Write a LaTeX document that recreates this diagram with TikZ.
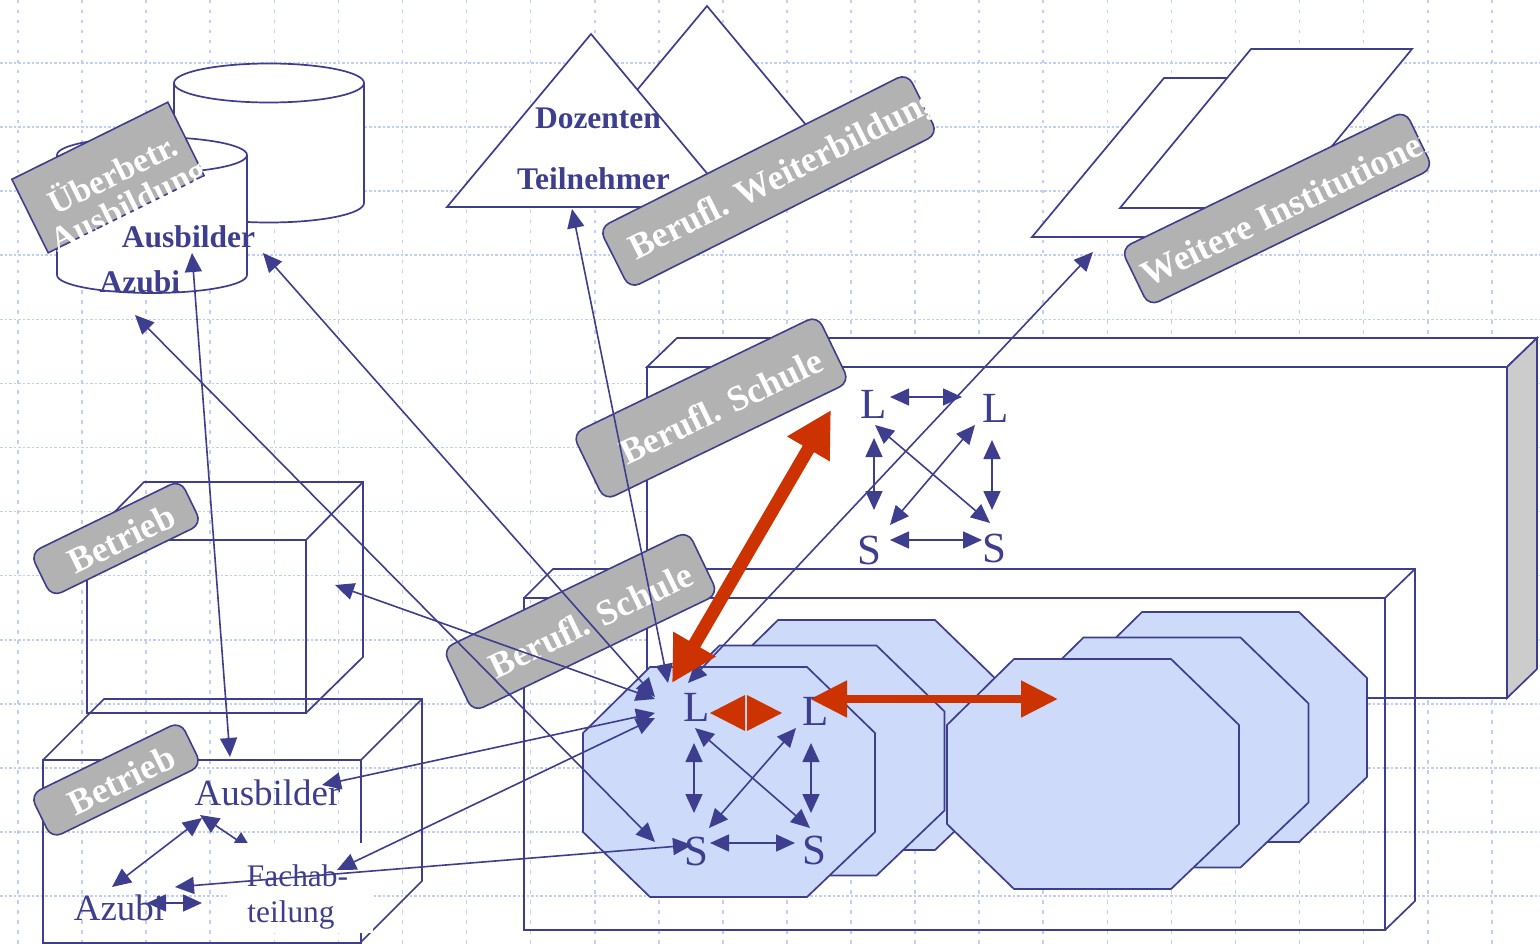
\documentclass[tikz,border=0pt]{standalone}
\usepackage{fontspec}
\setmainfont{Liberation Serif}
\usetikzlibrary{arrows.meta}
\definecolor{lc}{RGB}{62,62,142}
\definecolor{gridc}{RGB}{192,207,248}
\definecolor{labelgray}{RGB}{178,178,178}
\definecolor{sidegray}{RGB}{204,204,204}
\definecolor{octfill}{RGB}{205,218,250}
\definecolor{redc}{RGB}{204,51,0}
\newcommand{\myfs}[1]{\fontsize{#1}{#1}\selectfont}
\newcommand{\myoct}[2]{%
  \draw[octst, shift={(#1,#2)}] (650,667) -- (807,667) -- (875,733) -- (875,832) -- (807,897) -- (650,897) -- (583,832) -- (583,733) -- cycle;}
\begin{document}
\begin{tikzpicture}[x=1pt,y=-1pt,
  ln/.style={draw=lc,line width=1.7pt,line join=miter},
  wh/.style={ln,fill=white},
  octst/.style={ln,fill=octfill},
  vgrid/.style={draw=gridc,line width=1.6pt,dash pattern=on 3.5pt off 6.5pt},
  hgrid/.style={draw=gridc,line width=1.6pt,dash pattern=on 2.5pt off 2pt},
  con/.style={draw=lc,line width=1.6pt,{Triangle[length=19pt,width=17pt]}-{Triangle[length=19pt,width=17pt]}},
  lblbox/.style={draw=lc,line width=1.6pt,fill=labelgray,inner sep=0pt,rounded corners=11pt},
  lbltxt/.style={text=white,font=\bfseries\myfs{36},inner sep=0pt},
  boldtxt/.style={text=lc,font=\bfseries\myfs{31.5},inner sep=0pt,anchor=base},
  regtxt/.style={text=lc,inner sep=0pt,anchor=base},
  lstxt/.style={text=lc,font=\myfs{43},inner sep=0pt,anchor=base},
  redtip/.style={draw=redc,line width=13pt,{Triangle[length=45pt,width=46pt]}-{Triangle[length=45pt,width=46pt]}},
  redtiptwo/.style={draw=redc,line width=8pt,{Triangle[length=37pt,width=35pt]}-{Triangle[length=37pt,width=35pt]}}
]
\useasboundingbox (0,0) rectangle (1540,944);
\fill[white] (0,0) rectangle (1540,944);
% grid
\foreach \i in {0,...,23} \draw[vgrid] ({18+64.08*\i},0) -- ({18+64.08*\i},944);
\foreach \j in {0,...,13} \draw[hgrid] (0,{63+64.08*\j}) -- (1540,{63+64.08*\j});

% cylinders
\path[wh] (174,83) -- (174,203) .. controls (174,213.8) and (216.5,222.5) .. (269,222.5) .. controls (321.5,222.5) and (364,213.8) .. (364,203) -- (364,83);
\draw[wh] (269,83) ellipse [x radius=95, y radius=19.5];
\path[wh] (57,155) -- (57,275) .. controls (57,284.9) and (99.5,293) .. (152,293) .. controls (204.5,293) and (247,284.9) .. (247,275) -- (247,155);
\draw[wh] (152,155) ellipse [x radius=95, y radius=18];

% triangles
\draw[wh] (707,6) -- (847.7,175) -- (566.3,175) -- cycle;
\draw[wh] (591,34) -- (735,207) -- (447,207) -- cycle;

% parallelograms
\draw[wh] (1164,78) -- (1325,78) -- (1193,237) -- (1032,237) -- cycle;
\draw[wh] (1251,49) -- (1412,49) -- (1281,208) -- (1120,208) -- cycle;

% Betrieb boxes (transparent)
\draw[ln] (87,540) rectangle (306,713);
\draw[ln] (87,540) -- (144,482) -- (363,482) -- (363,657) -- (306,713);
\draw[ln] (306,540) -- (363,482);
\draw[ln] (43,760) rectangle (361,943);
\draw[ln] (43,760) -- (104,699) -- (422,699) -- (422,881) -- (361,942);
\draw[ln] (361,760) -- (422,699);

% upper school box
\draw[wh] (647,367) rectangle (1507,698);
\draw[wh] (647,367) -- (677,338) -- (1537,338) -- (1507,367) -- cycle;
\draw[ln,fill=sidegray] (1507,367) -- (1537,338) -- (1537,669) -- (1507,698) -- cycle;
% lower school box (transparent)
\draw[ln] (524,598) rectangle (1385,930);
\draw[ln] (524,598) -- (553,569) -- (1415,569) -- (1415,901) -- (1385,930);
\draw[ln] (1385,598) -- (1415,569);

% octagons
\myoct{128}{-47}
\myoct{69.5}{-21.5}
\myoct{0}{0}
\myoct{492}{-55}
\myoct{433.5}{-29.5}
\myoct{364}{-8}

% labels
\node[lblbox,rounded corners=0pt,rotate=26.3,minimum width=174pt,minimum height=82pt] (lbub) at (108,177.5) {};
\node[text=white,font=\bfseries\myfs{34},inner sep=0pt,rotate=26.3,align=center] (lbubt) at (121,190.5) {\baselineskip=43pt Überbetr.\\Ausbildung};
\node[lblbox,rotate=26.7,minimum width=345pt,minimum height=68pt] (lbwb) at (768.5,181) {};
\node[lbltxt,rotate=26.7,anchor=west] (lbwbt) at (632.2,253.1) {Berufl. Weiterbildung};
\node[lblbox,rotate=25.9,minimum width=316pt,minimum height=64pt] (lbwi) at (1277,208.5) {};
\node[lbltxt,rotate=25.9,anchor=west] (lbwit) at (1143.4,276.7) {Weitere Institutionen};
\node[lblbox,rotate=25.8,minimum width=272pt,minimum height=74pt] (lbs1) at (711,408) {};
\node[lbltxt,rotate=25.8] (lbs1t) at (721.3,406.3) {Berufl. Schule};
\node[lblbox,rotate=25.7,minimum width=272pt,minimum height=70pt] (lbs2) at (580.5,621.5) {};
\node[lbltxt,rotate=25.7] (lbs2t) at (590.8,619.9) {Berufl. Schule};
\node[lblbox,rotate=26,minimum width=167pt,minimum height=49pt] (lbb1) at (116,538.5) {};
\node[lbltxt,rotate=26] (lbb1t) at (121.4,538.5) {Betrieb};
\node[lblbox,rotate=26,minimum width=167pt,minimum height=49pt] (lbb2) at (116,780) {};
\node[lbltxt,rotate=26] (lbb2t) at (121.4,780) {Betrieb};

% texts
\node[boldtxt] (doz) at (598,129) {Dozenten};
\node[boldtxt] (teil) at (593.5,190) {Teilnehmer};
\node[boldtxt] (ausb1) at (188.5,248) {Ausbilder};
\node[boldtxt] (azubi1) at (140,292) {Azubi};
\node[regtxt,font=\myfs{37}] (ausb2) at (267.5,805) {Ausbilder};
\node[regtxt,font=\myfs{37}] (azubi2) at (119,920) {Azubi};

% Betrieb internal arrows
\coordinate (b1a) at (202,818); \coordinate (b1b) at (112,887);
\coordinate (b2a) at (200,815); \coordinate (b2b) at (252,850);
\coordinate (b3a) at (147,903); \coordinate (b3b) at (202,903);
\draw[con] (b1a) -- (b1b);
\draw[con] (b2a) -- (b2b);
\draw[con] (b3a) -- (b3b);
\fill[white] (227,843) rectangle (373,933);
\node[regtxt,font=\myfs{31.4}] (fach) at (297.5,886) {Fachab-};
\node[regtxt,font=\myfs{31.4}] (teilung) at (291,922) {teilung};

% connector endpoints
\coordinate (c1a) at (572,209); \coordinate (c1b) at (668,683);
\coordinate (c2a) at (263,253); \coordinate (c2b) at (655,697);
\coordinate (c3a) at (335,585); \coordinate (c3b) at (655,699);
\coordinate (c4a) at (322,785); \coordinate (c4b) at (655,713);
\coordinate (c5a) at (337,870); \coordinate (c5b) at (655,718);
\coordinate (c6a) at (175,887); \coordinate (c6b) at (692,845);
\coordinate (c7a) at (135,315); \coordinate (c7b) at (655,842);
\coordinate (c8a) at (192,253); \coordinate (c8b) at (230,757);
\coordinate (c9a) at (1093,252); \coordinate (c9b) at (688,683);
\foreach \k in {1,...,9} \draw[con] (c\k a) -- (c\k b);

% L/S arrows upper
\coordinate (u1a) at (890,397); \coordinate (u1b) at (962,397);
\coordinate (u2a) at (874,438); \coordinate (u2b) at (874,510);
\coordinate (u3a) at (992,440); \coordinate (u3b) at (992,510);
\coordinate (u4a) at (875,425); \coordinate (u4b) at (990,523);
\coordinate (u5a) at (975,425); \coordinate (u5b) at (890,525);
\coordinate (u6a) at (890,540); \coordinate (u6b) at (982,540);
\foreach \k in {1,...,6} \draw[con] (u\k a) -- (u\k b);
% L/S arrows lower
\coordinate (l2a) at (694,743); \coordinate (l2b) at (694,813);
\coordinate (l3a) at (811,743); \coordinate (l3b) at (811,813);
\coordinate (l4a) at (695,728); \coordinate (l4b) at (810,828);
\coordinate (l5a) at (796,728); \coordinate (l5b) at (709,828);
\coordinate (l6a) at (710,843); \coordinate (l6b) at (795,843);
\foreach \k in {2,...,6} \draw[con] (l\k a) -- (l\k b);

% red arrows
\coordinate (r1a) at (672,683); \coordinate (r1b) at (831,410);
\coordinate (r2a) at (810,699); \coordinate (r2b) at (1058,699);
\draw[redtip] (r1a) -- (r1b);
\draw[redtiptwo] (r2a) -- (r2b);
\fill[redc] (710,713) -- (745,695) -- (745,731) -- cycle;
\fill[redc] (782,713) -- (747,695) -- (747,731) -- cycle;

% L / S letters
\node[lstxt] (L1) at (873.5,418) {L};
\node[lstxt] (L2) at (995.5,422) {L};
\node[lstxt] (S1) at (869,564) {S};
\node[lstxt] (S2) at (994,562) {S};
\node[lstxt] (L3) at (696.5,721) {L};
\node[lstxt] (L4) at (815.5,725) {L};
\node[lstxt] (S3) at (696.5,865) {S};
\node[lstxt] (S4) at (814,864) {S};
\end{tikzpicture}
\end{document}
